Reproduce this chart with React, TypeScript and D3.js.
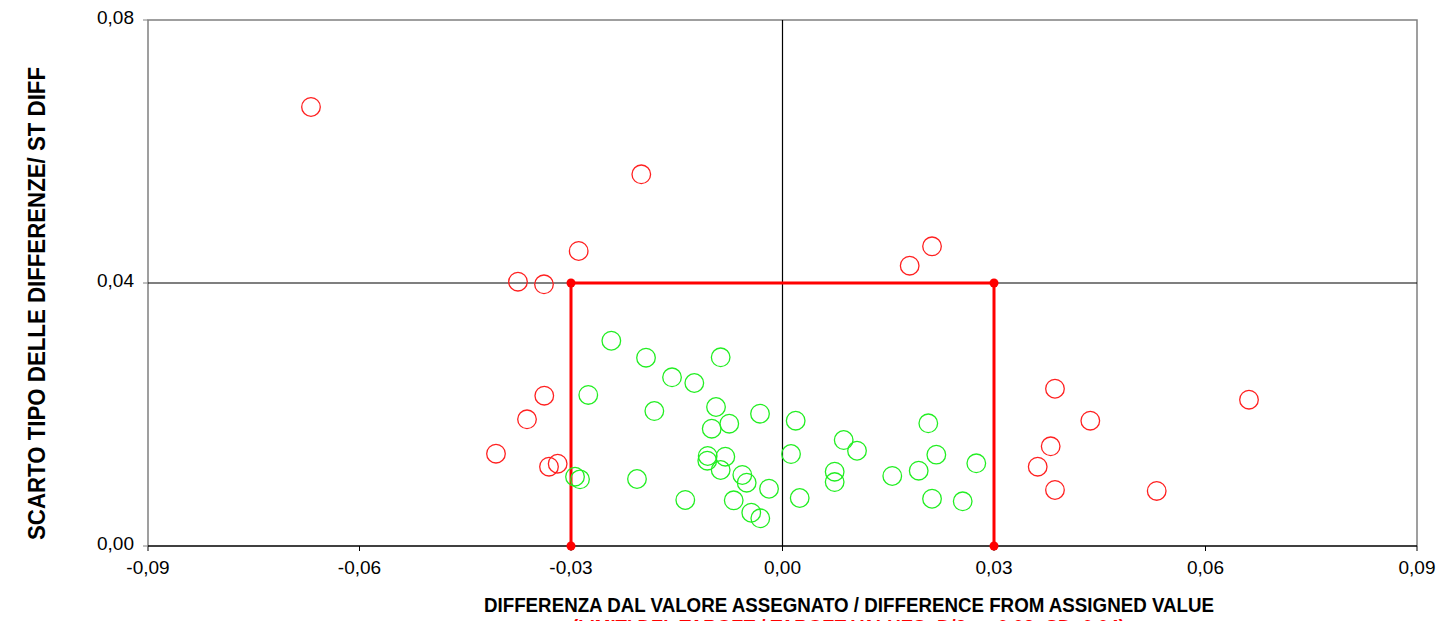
import React from "react";
import * as d3 from "d3";

const W = 1439;
const H = 621;

const xTicks = [-0.09, -0.06, -0.03, 0, 0.03, 0.06, 0.09];
const yTicks = [0, 0.04, 0.08];

const targetD = 0.03;
const targetSD = 0.04;

const redX = [-0.06688, -0.02003, -0.02891, -0.03752, -0.03383, 0.02121, 0.01804, -0.03379, -0.03624, -0.04064, -0.03189, -0.03312, 0.03865, 0.06617, 0.04366, 0.03804, 0.0362, 0.03865, 0.05308];
const redY = [0.06677, 0.05653, 0.04487, 0.0402, 0.0398, 0.04558, 0.04263, 0.02286, 0.01927, 0.01404, 0.01252, 0.01206, 0.02392, 0.02225, 0.01906, 0.01516, 0.01206, 0.00852, 0.00837];

const greenX = [-0.02428, -0.01936, -0.00877, -0.01567, -0.01251, -0.02755, -0.01818, -0.00943, -0.00755, -0.01004, -0.00319, 0.00187, 0.00121, -0.01061, -0.01067, -0.00811, -0.00877, -0.0057, -0.00508, -0.00191, -0.01379, -0.00692, -0.00443, -0.00315, 0.00244, -0.02943, -0.02872, -0.02064, 0.00868, 0.01057, 0.0074, 0.0074, 0.02068, 0.02182, 0.01932, 0.01557, 0.02749, 0.02121, 0.02556];
const greenY = [0.03122, 0.02864, 0.0287, 0.02566, 0.02479, 0.02297, 0.02053, 0.02114, 0.0186, 0.01784, 0.02012, 0.01906, 0.01399, 0.01369, 0.01297, 0.01358, 0.01156, 0.0108, 0.00963, 0.00871, 0.007, 0.00695, 0.00506, 0.00421, 0.0073, 0.01054, 0.01014, 0.01019, 0.01612, 0.01449, 0.0113, 0.00973, 0.01866, 0.01389, 0.01145, 0.01065, 0.01258, 0.00719, 0.0068];

const fmt = (v: number) => d3.format(".2f")(v).replace(".", ",").replace("−", "-");

export default function App() {
  const left = 148, right = 1417, top = 20, bottom = 546;
  const x = d3.scaleLinear().domain([-0.09, 0.09]).range([left, right]);
  const y = d3.scaleLinear().domain([0, 0.08]).range([bottom, top]);

  const corners: [number, number][] = [
    [-targetD, 0],
    [-targetD, targetSD],
    [targetD, targetSD],
    [targetD, 0],
  ];
  const targetPath = d3.line<[number, number]>()
    .x((d) => x(d[0]))
    .y((d) => y(d[1]))(corners) as string;

  const font = "Arial, 'Liberation Sans', sans-serif";

  return (
    <svg width={W} height={H} style={{ position: "absolute", left: 0, top: 0, background: "#fff" }} fontFamily={font}>
      <rect x={0} y={0} width={W} height={H} fill="#fff" />
      {/* frame */}
      <path d={`M${left},${bottom} V${top} H${right} V${bottom}`} fill="none" stroke="#808080" strokeWidth={1.5} />
      {/* reference lines */}
      <line x1={left} x2={right} y1={y(0.04)} y2={y(0.04)} stroke="#000" strokeWidth={1.2} />
      <line x1={x(0)} x2={x(0)} y1={top} y2={bottom} stroke="#000" strokeWidth={1.2} />
      {/* x axis */}
      <line x1={left} x2={right} y1={bottom} y2={bottom} stroke="#000" strokeWidth={1.5} />
      {xTicks.map((t) => (
        <g key={"x" + t}>
          <line x1={x(t)} x2={x(t)} y1={bottom} y2={bottom + 5} stroke="#000" strokeWidth={1} />
          <text x={x(t)} y={bottom + 28} textAnchor="middle" fontSize={19} fill="#000">
            {fmt(t)}
          </text>
        </g>
      ))}
      {yTicks.map((t) => (
        <g key={"y" + t}>
          <line x1={left - 5} x2={left} y1={y(t)} y2={y(t)} stroke="#808080" strokeWidth={1} />
          <text x={left - 14} y={y(t) - 1} textAnchor="end" fontSize={19} fill="#000" dominantBaseline="middle">
            {fmt(t)}
          </text>
        </g>
      ))}
      {/* target box */}
      <path d={targetPath} fill="none" stroke="#ff0000" strokeWidth={3} />
      {corners.map((c, i) => (
        <circle key={"c" + i} cx={x(c[0])} cy={y(c[1])} r={4.5} fill="#ff0000" />
      ))}
      {/* points */}
      {redX.map((v, i) => (
        <circle key={"r" + i} cx={x(v)} cy={y(redY[i])} r={9.3} fill="none" stroke="#ff2020" strokeWidth={1.3} />
      ))}
      {greenX.map((v, i) => (
        <circle key={"g" + i} cx={x(v)} cy={y(greenY[i])} r={9.3} fill="none" stroke="#22ee22" strokeWidth={1.3} />
      ))}
      {/* titles */}
      <text x={484} y={612} fontSize={20} fontWeight="bold" fill="#000" textLength={730} lengthAdjust="spacingAndGlyphs">
        DIFFERENZA DAL VALORE ASSEGNATO / DIFFERENCE FROM ASSIGNED VALUE
      </text>
      <text x={572} y={633.5} fontSize={20} fontWeight="bold" fill="#ff0000" textLength={553} lengthAdjust="spacingAndGlyphs">
        (LIMITI DEL TARGET / TARGET VALUES: D/2 = ±0,03; SD=0,04)
      </text>
      <text transform={`translate(45,540) rotate(-90)`} fontSize={24} fontWeight="bold" fill="#000" textLength={473} lengthAdjust="spacingAndGlyphs">
        SCARTO TIPO DELLE DIFFERENZE/ ST DIFF
      </text>
    </svg>
  );
}
